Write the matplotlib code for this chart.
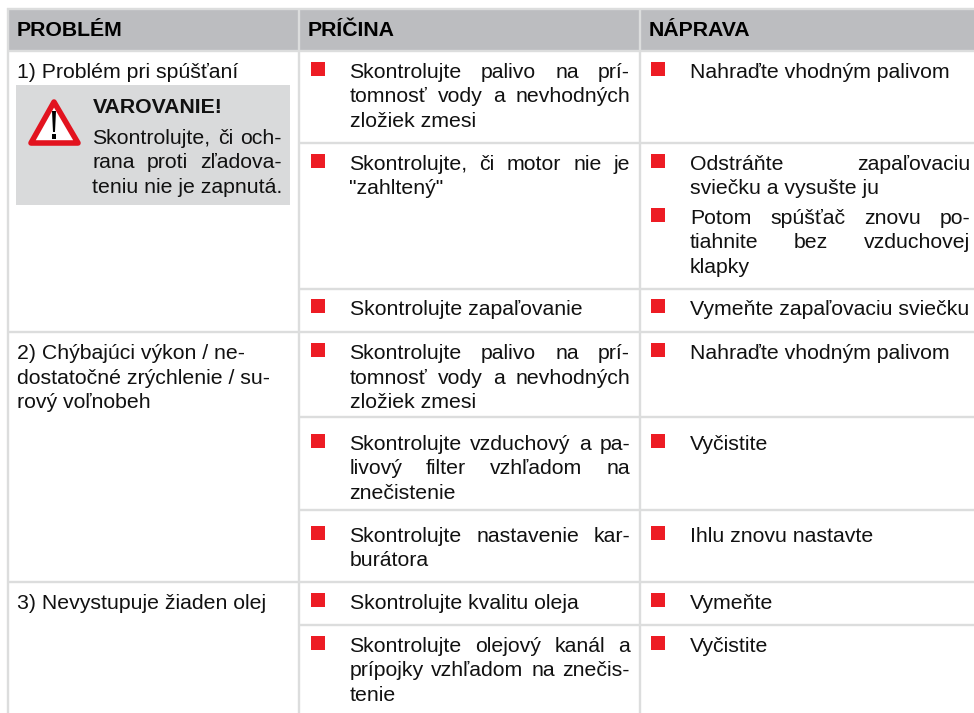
import matplotlib
matplotlib.use('Agg')
import matplotlib.pyplot as plt
from matplotlib.patches import Polygon, Rectangle

plt.rcParams['font.family'] = ['Liberation Sans', 'DejaVu Sans']

headers = ['PROBLÉM', 'PRÍČINA', 'NÁPRAVA']

problems = [
	['1) Problém pri spúšťaní'],
	['2) Chýbajúci výkon / ne-', 'dostatočné zrýchlenie / su-', 'rový voľnobeh'],
	['3) Nevystupuje žiaden olej'],
]
problem_base = [78, 359, 609]

warning_title = 'VAROVANIE!'
warning_text = ['Skontrolujte, či och-', 'rana proti zľadova-', 'teniu nie je zapnutá.']

causes = [
	['Skontrolujte palivo na prí-', 'tomnosť vody a nevhodných', 'zložiek zmesi'],
	['Skontrolujte, či motor nie je', '"zahltený"'],
	['Skontrolujte zapaľovanie'],
	['Skontrolujte palivo na prí-', 'tomnosť vody a nevhodných', 'zložiek zmesi'],
	['Skontrolujte vzduchový a pa-', 'livový filter vzhľadom na', 'znečistenie'],
	['Skontrolujte nastavenie kar-', 'burátora'],
	['Skontrolujte kvalitu oleja'],
	['Skontrolujte olejový kanál a', 'prípojky vzhľadom na znečis-', 'tenie'],
]
cause_base = [78, 170, 315, 359, 450, 542, 609, 652]

remedies = [
	['Nahraďte vhodným palivom'],
	['Odstráňte zapaľovaciu', 'sviečku a vysušte ju'],
	['Potom spúšťač znovu po-', 'tiahnite bez vzduchovej', 'klapky'],
	['Vymeňte zapaľovaciu sviečku'],
	['Nahraďte vhodným palivom'],
	['Vyčistite'],
	['Ihlu znovu nastavte'],
	['Vymeňte'],
	['Vyčistite'],
]
remedy_base = [78, 170, 224, 315, 359, 450, 542, 609, 652]

row_lines = [143, 289, 417, 510, 625]
group_lines = [51, 332, 582]

LINE = '#dcdddd'
HEAD = '#bcbdc0'
BOX = '#d9dadb'
RED = '#ed1c24'
TXT = '#111111'
FS = 15.3
STEP = 24.5


def draw_lines(ax, rend, x0, x1, base, lines, justify=True):
	for i, line in enumerate(lines):
		y = base + i * STEP
		words = line.split(' ')
		if not justify or i == len(lines) - 1 or len(words) < 2:
			ax.text(x0, y, line, fontsize=FS, color=TXT, va='baseline', ha='left')
			continue
		arts = [ax.text(0, y, w, fontsize=FS, color=TXT, va='baseline', ha='left') for w in words]
		widths = [a.get_window_extent(rend).width for a in arts]
		gap = (x1 - x0 - sum(widths)) / (len(words) - 1)
		x = x0
		for a, w in zip(arts, widths):
			a.set_x(x)
			x += w + gap


def main():
	fig = plt.figure(figsize=(9.74, 7.13), dpi=100)
	ax = fig.add_axes([0, 0, 1, 1])
	ax.set_xlim(0, 974)
	ax.set_ylim(713, 0)
	ax.axis('off')
	rend = fig.canvas.get_renderer()

	# header band
	ax.add_patch(Rectangle((8, 9), 966, 42, fc=HEAD, ec='none'))
	for x, h in zip([17, 308, 649], headers):
		ax.text(x, 36, h, fontsize=FS, fontweight='bold', color='#000000', va='baseline')

	# grid
	ax.plot([7, 974], [9, 9], color=LINE, lw=1.7, solid_capstyle='butt')
	for y in group_lines:
		ax.plot([7, 974], [y, y], color=LINE, lw=1.7, solid_capstyle='butt')
	for y in row_lines:
		ax.plot([299, 974], [y, y], color=LINE, lw=1.7, solid_capstyle='butt')
	for x in [8, 299, 640]:
		ax.plot([x, x], [8, 713], color=LINE, lw=1.7, solid_capstyle='butt')

	# warning box
	ax.add_patch(Rectangle((16, 85), 274, 120, fc=BOX, ec='none'))
	ax.add_patch(Polygon([[54, 102], [31, 143], [78, 143]], closed=True, fc='white',
		ec='#e2131f', lw=4, joinstyle='round'))
	ax.add_patch(Polygon([[52, 111], [56, 111], [55, 132], [53, 132]], closed=True, fc='black', ec='none'))
	ax.add_patch(Rectangle((52, 134), 4, 4.5, fc='black', ec='none'))
	ax.text(92.5, 113, warning_title, fontsize=FS, fontweight='bold', color=TXT, va='baseline')
	draw_lines(ax, rend, 92.5, 282, 144, warning_text)

	for lines, base in zip(problems, problem_base):
		draw_lines(ax, rend, 17, 290, base, lines, justify=False)

	for lines, base in zip(causes, cause_base):
		ax.add_patch(Rectangle((311, base - 16), 14, 14, fc=RED, ec='none'))
		draw_lines(ax, rend, 349.5, 630, base, lines)

	for lines, base in zip(remedies, remedy_base):
		ax.add_patch(Rectangle((651, base - 16), 14, 14, fc=RED, ec='none'))
		draw_lines(ax, rend, 690, 970, base, lines)

	fig.savefig('out.png', dpi=100)


if __name__ == '__main__':
	main()
